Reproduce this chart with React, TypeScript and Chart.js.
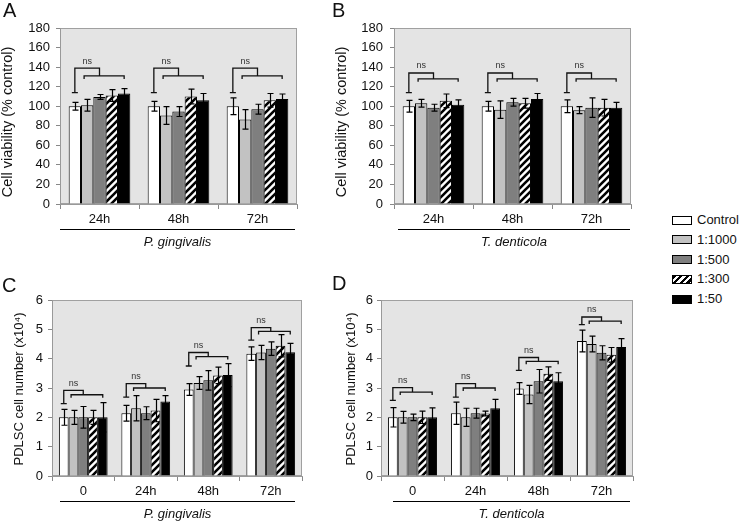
import React, { useEffect, useRef } from 'react';
import { Chart, registerables } from 'chart.js';
Chart.register(...registerables);

const FONT = '"Liberation Sans", Arial, Helvetica, sans-serif';

const seriesNames = ['Control', '1:1000', '1:500', '1:300', '1:50'];
const groupsAB = ['24h', '48h', '72h'];
const groupsCD = ['0', '24h', '48h', '72h'];

// Panel A (P. gingivalis, viability)
const aCtrl = [100, 100, 100];
const aCtrlErr = [4, 5, 8.5];
const a1000 = [101, 90.5, 86.5];
const a1000Err = [6, 9, 10];
const a500 = [109.5, 94.5, 97];
const a500Err = [2.5, 5, 5];
const a300 = [111, 110, 106];
const a300Err = [6, 7.5, 7];
const a50 = [113, 106, 107.5];
const a50Err = [5, 7, 5];
const aBrBottom = [114, 114, 114];
const aBrTop = [139, 139, 139];
const aBrSub = [131, 131, 131];

// Panel B (T. denticola, viability)
const bCtrl = [100, 100, 100];
const bCtrlErr = [6, 5, 6.5];
const b1000 = [103, 96.5, 96];
const b1000Err = [4, 9, 3.5];
const b500 = [98.5, 104, 98.5];
const b500Err = [3.5, 4, 10];
const b300 = [105.5, 103, 98.5];
const b300Err = [7, 5, 8.5];
const b50 = [101.5, 107.5, 98.5];
const b50Err = [5, 5.5, 5.5];
const bBrBottom = [114, 114, 114];
const bBrTop = [134, 134, 134];
const bBrSub = [128, 128, 128];

// Panel C (P. gingivalis, cell number)
const cCtrl = [2.0, 2.14, 2.95, 4.17];
const cCtrlErr = [0.27, 0.27, 0.2, 0.23];
const c1000 = [2.0, 2.31, 3.17, 4.21];
const c1000Err = [0.24, 0.43, 0.22, 0.24];
const c500 = [2.0, 2.14, 3.26, 4.34];
const c500Err = [0.37, 0.22, 0.33, 0.23];
const c300 = [2.0, 2.23, 3.43, 4.44];
const c300Err = [0.24, 0.38, 0.28, 0.38];
const c50 = [2.0, 2.54, 3.44, 4.22];
const c50Err = [0.5, 0.2, 0.39, 0.3];
const cBrBottom = [2.47, 2.69, 3.75, 4.63];
const cBrTop = [2.92, 3.15, 4.21, 5.06];
const cBrSub = [2.77, 3.0, 4.07, 4.93];

// Panel D (T. denticola, cell number)
const dCtrl = [2.0, 2.14, 2.98, 4.6];
const dCtrlErr = [0.33, 0.38, 0.2, 0.37];
const d1000 = [2.0, 2.0, 2.78, 4.5];
const d1000Err = [0.2, 0.31, 0.31, 0.27];
const d500 = [2.0, 2.14, 3.23, 4.2];
const d500Err = [0.11, 0.17, 0.4, 0.24];
const d300 = [2.0, 2.13, 3.49, 4.13];
const d300Err = [0.21, 0.08, 0.23, 0.25];
const d50 = [2.0, 2.31, 3.23, 4.4];
const d50Err = [0.32, 0.3, 0.29, 0.28];
const dBrBottom = [2.58, 2.69, 3.6, 5.16];
const dBrTop = [3.01, 3.15, 4.04, 5.42];
const dBrSub = [2.86, 3.0, 3.91, 5.28];

const viabilityTitle = 'Cell viability (% control)';
const numberTitle = 'PDLSC cell number (x10\u2074)';

type PanelCfg = {
  left: number; top: number; w: number; h: number;
  padding: { left: number; top: number; right: number; bottom: number };
  yWidth: number; xHeight: number; yTickPad: number;
  labels: string[]; means: number[][]; errs: number[][];
  brBottom: number[]; brTop: number[]; brSub: number[];
  yMax: number; yStep: number; yTitle: string; organism: string;
  titleX: number; titleDY: number; titleSize: number;
  lineInsetL: number; lineInsetR: number;
};

const panels: PanelCfg[] = [
  {
    left: 0, top: 0, w: 330, h: 255,
    padding: { left: 0, top: 28, right: 33, bottom: 0 },
    yWidth: 60, xHeight: 51, yTickPad: 6,
    labels: groupsAB,
    means: [aCtrl, a1000, a500, a300, a50],
    errs: [aCtrlErr, a1000Err, a500Err, a300Err, a50Err],
    brBottom: aBrBottom, brTop: aBrTop, brSub: aBrSub,
    yMax: 180, yStep: 20, yTitle: viabilityTitle, organism: 'P. gingivalis',
    titleX: 8, titleDY: 6, titleSize: 14.5,
    lineInsetL: 0, lineInsetR: 2,
  },
  {
    left: 330, top: 0, w: 310, h: 255,
    padding: { left: 4, top: 28, right: 9, bottom: 0 },
    yWidth: 60, xHeight: 51, yTickPad: 7,
    labels: groupsAB,
    means: [bCtrl, b1000, b500, b300, b50],
    errs: [bCtrlErr, b1000Err, b500Err, b300Err, b50Err],
    brBottom: bBrBottom, brTop: bBrTop, brSub: bBrSub,
    yMax: 180, yStep: 20, yTitle: viabilityTitle, organism: 'T. denticola',
    titleX: 12, titleDY: 6, titleSize: 14.5,
    lineInsetL: 4, lineInsetR: 1,
  },
  {
    left: 0, top: 260, w: 330, h: 261,
    padding: { left: 10, top: 40, right: 28, bottom: 0 },
    yWidth: 42, xHeight: 45, yTickPad: 5,
    labels: groupsCD,
    means: [cCtrl, c1000, c500, c300, c50],
    errs: [cCtrlErr, c1000Err, c500Err, c300Err, c50Err],
    brBottom: cBrBottom, brTop: cBrTop, brSub: cBrSub,
    yMax: 6, yStep: 1, yTitle: numberTitle, organism: 'P. gingivalis',
    titleX: 19, titleDY: 1, titleSize: 13,
    lineInsetL: 8, lineInsetR: 7,
  },
  {
    left: 330, top: 260, w: 310, h: 261,
    padding: { left: 12, top: 40, right: 7, bottom: 0 },
    yWidth: 39, xHeight: 45, yTickPad: 4,
    labels: groupsCD,
    means: [dCtrl, d1000, d500, d300, d50],
    errs: [dCtrlErr, d1000Err, d500Err, d300Err, d50Err],
    brBottom: dBrBottom, brTop: dBrTop, brSub: dBrSub,
    yMax: 6, yStep: 1, yTitle: numberTitle, organism: 'T. denticola',
    titleX: 21, titleDY: 1, titleSize: 13,
    lineInsetL: 12, lineInsetR: 3,
  },
];

function makeHatch(ctx: CanvasRenderingContext2D): CanvasPattern | string {
  const s = 7;
  const c = document.createElement('canvas');
  c.width = s; c.height = s;
  const g = c.getContext('2d');
  if (!g) return '#888';
  g.fillStyle = '#fff';
  g.fillRect(0, 0, s, s);
  g.strokeStyle = '#000';
  g.lineWidth = 2.6;
  g.beginPath();
  for (const k of [-s, 0, s]) {
    g.moveTo(k - 1, s + 1);
    g.lineTo(k + s + 1, -1);
  }
  g.stroke();
  return ctx.createPattern(c, 'repeat') || '#888';
}

function Panel({ cfg }: { cfg: PanelCfg }) {
  const ref = useRef<HTMLCanvasElement>(null);
  useEffect(() => {
    const canvas = ref.current;
    if (!canvas) return;
    const ctx = canvas.getContext('2d');
    if (!ctx) return;
    const hatch = makeHatch(ctx);
    const colors: any[] = ['#ffffff', '#c2c2c2', '#7f7f7f', hatch, '#000000'];

    const bgPlugin = {
      id: 'bg',
      beforeDraw(chart: any) {
        const { ctx: c, chartArea: a } = chart;
        c.save();
        c.fillStyle = '#e4e4e4';
        c.fillRect(a.left, a.top, a.right - a.left, a.bottom - a.top);
        c.strokeStyle = '#a0a0a0';
        c.lineWidth = 1;
        c.strokeRect(a.left + 0.5, a.top + 0.5, a.right - a.left - 1, a.bottom - a.top - 1);
        c.restore();
      },
    };

    const errPlugin = {
      id: 'errs',
      afterDatasetsDraw(chart: any) {
        const c = chart.ctx;
        const ys = chart.scales.y;
        c.save();
        c.strokeStyle = '#000';
        c.lineWidth = 1.2;
        cfg.means.forEach((row, i) => {
          const meta = chart.getDatasetMeta(i);
          meta.data.forEach((bar: any, j: number) => {
            const v = row[j];
            const e = cfg.errs[i][j];
            const x = Math.round(bar.x) + 0.5;
            const y1 = ys.getPixelForValue(v + e);
            const y2 = ys.getPixelForValue(v - e);
            c.beginPath();
            c.moveTo(x, y1); c.lineTo(x, y2);
            c.moveTo(x - 3, y1); c.lineTo(x + 3, y1);
            c.moveTo(x - 3, y2); c.lineTo(x + 3, y2);
            c.stroke();
          });
        });
        c.restore();
      },
    };

    const bracketPlugin = {
      id: 'brackets',
      afterDatasetsDraw(chart: any) {
        const c = chart.ctx;
        const ys = chart.scales.y;
        c.save();
        c.strokeStyle = '#111';
        c.lineWidth = 1.3;
        c.fillStyle = '#333';
        c.font = `9px ${FONT}`;
        c.textAlign = 'center';
        c.textBaseline = 'middle';
        cfg.labels.forEach((_, j) => {
          const b0 = chart.getDatasetMeta(0).data[j];
          const b1 = chart.getDatasetMeta(1).data[j];
          const b2 = chart.getDatasetMeta(2).data[j];
          const b4 = chart.getDatasetMeta(4).data[j];
          const yb = ys.getPixelForValue(cfg.brBottom[j]);
          const yt = ys.getPixelForValue(cfg.brTop[j]);
          const ysub = ys.getPixelForValue(cfg.brSub[j]);
          const x0 = b0.x;
          const xm = b2.x;
          const xs1 = b1.x - b1.width * 0.25;
          const xs2 = b4.x;
          c.beginPath();
          c.moveTo(x0 - 3, yb); c.lineTo(x0 + 3, yb);
          c.moveTo(x0, yb); c.lineTo(x0, yt); c.lineTo(xm, yt); c.lineTo(xm, ysub);
          c.moveTo(xs1, ysub + 3); c.lineTo(xs1, ysub); c.lineTo(xs2, ysub); c.lineTo(xs2, ysub + 3);
          c.stroke();
          c.fillText('ns', b1.x, yt - 7);
        });
        c.restore();
      },
    };

    const titlePlugin = {
      id: 'ytitle',
      afterDraw(chart: any) {
        const c = chart.ctx;
        const a = chart.chartArea;
        c.save();
        c.translate(cfg.titleX, (a.top + a.bottom) / 2 + cfg.titleDY);
        c.rotate(-Math.PI / 2);
        c.fillStyle = '#111';
        c.font = `${cfg.titleSize}px ${FONT}`;
        c.textAlign = 'center';
        c.textBaseline = 'middle';
        c.fillText(cfg.yTitle, 0, 0);
        c.restore();
      },
    };

    const organismPlugin = {
      id: 'organism',
      afterDraw(chart: any) {
        const c = chart.ctx;
        const a = chart.chartArea;
        const x1 = a.left + cfg.lineInsetL;
        const x2 = a.right - cfg.lineInsetR;
        const y = Math.round(a.bottom + 25) + 0.5;
        c.save();
        c.strokeStyle = '#000';
        c.lineWidth = 1;
        c.beginPath();
        c.moveTo(x1, y); c.lineTo(x2, y);
        c.stroke();
        c.fillStyle = '#111';
        c.font = `italic 13px ${FONT}`;
        c.textAlign = 'center';
        c.textBaseline = 'middle';
        c.fillText(cfg.organism, (x1 + x2) / 2, y + 13);
        c.restore();
      },
    };

    const chart = new Chart(ctx, {
      type: 'bar',
      data: {
        labels: cfg.labels,
        datasets: seriesNames.map((name, i) => ({
          label: name,
          data: cfg.means[i],
          backgroundColor: colors[i],
          borderColor: '#000',
          borderWidth: 1,
          categoryPercentage: 0.78,
          barPercentage: 1,
        })),
      },
      options: {
        animation: false,
        responsive: false,
        devicePixelRatio: 1,
        layout: { padding: cfg.padding },
        plugins: {
          legend: { display: false },
          tooltip: { enabled: false },
        },
        scales: {
          x: {
            grid: { display: true, drawOnChartArea: false, drawTicks: true, tickLength: 5, color: '#888', offset: true },
            border: { display: true, color: '#999' },
            ticks: { color: '#111', font: { family: FONT, size: 13 }, padding: 3 },
            afterFit: (s: any) => { s.height = cfg.xHeight; },
          },
          y: {
            min: 0,
            max: cfg.yMax,
            grid: { display: true, drawOnChartArea: false, drawTicks: true, tickLength: 4, color: '#888' },
            border: { display: true, color: '#999' },
            ticks: { stepSize: cfg.yStep, color: '#111', font: { family: FONT, size: 13 }, padding: cfg.yTickPad },
            title: { display: false },
            afterFit: (s: any) => { s.width = cfg.yWidth; },
          },
        },
      } as any,
      plugins: [bgPlugin, errPlugin, bracketPlugin, titlePlugin, organismPlugin],
    });
    return () => chart.destroy();
  }, [cfg]);
  return (
    <canvas
      ref={ref}
      width={cfg.w}
      height={cfg.h}
      style={{ position: 'absolute', left: cfg.left, top: cfg.top, width: cfg.w, height: cfg.h }}
    />
  );
}

const legendFills = [
  '#ffffff',
  '#c2c2c2',
  '#7f7f7f',
  'repeating-linear-gradient(135deg, #000 0px, #000 2.3px, #fff 2.3px, #fff 4.7px)',
  '#000000',
];

const panelLetters = [
  { t: 'A', left: 3, top: 0 },
  { t: 'B', left: 332, top: 0 },
  { t: 'C', left: 2, top: 275 },
  { t: 'D', left: 332, top: 273 },
];

export default function App() {
  return (
    <div style={{ position: 'absolute', left: 0, top: 0, width: 740, height: 521, background: '#fff', fontFamily: FONT, overflow: 'hidden' }}>
      {panels.map((p, i) => <Panel key={i} cfg={p} />)}
      {panelLetters.map((l) => (
        <div key={l.t} style={{ position: 'absolute', left: l.left, top: l.top, fontSize: 20, lineHeight: '20px', color: '#111' }}>{l.t}</div>
      ))}
      {seriesNames.map((n, i) => {
        const cy = 220 + i * 19.75;
        return (
          <React.Fragment key={n}>
            <div style={{ position: 'absolute', left: 672, top: cy - 4.5, width: 20, height: 9, boxSizing: 'border-box', border: '1px solid #000', background: legendFills[i] }} />
            <div style={{ position: 'absolute', left: 697, top: cy - 8, fontSize: 13, lineHeight: '16px', color: '#111', whiteSpace: 'nowrap' }}>{n}</div>
          </React.Fragment>
        );
      })}
    </div>
  );
}
